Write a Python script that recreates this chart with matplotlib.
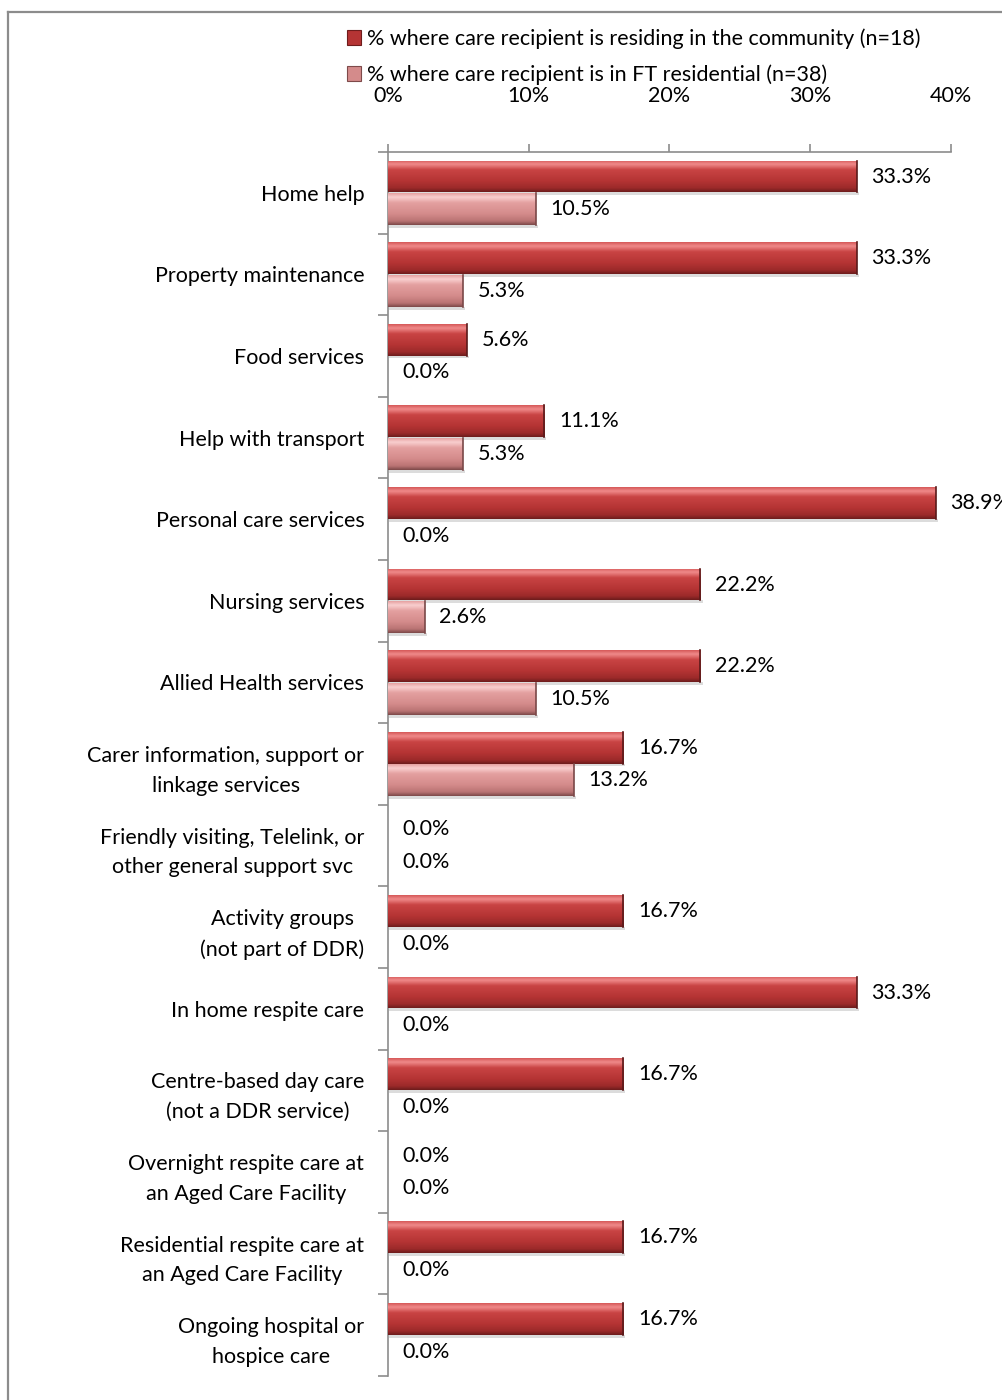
import numpy as np
import matplotlib.pyplot as plt
from matplotlib.colors import LinearSegmentedColormap
from matplotlib.lines import Line2D
from matplotlib.patches import Patch

plt.rcParams['font.family'] = ['Lato', 'DejaVu Sans']

categories = [
    'Home help',
    'Property maintenance',
    'Food services',
    'Help with transport',
    'Personal care services',
    'Nursing services',
    'Allied Health services',
    'Carer information, support or\nlinkage services',
    'Friendly visiting, Telelink, or\nother general support svc',
    'Activity groups\n(not part of DDR)',
    'In home respite care',
    'Centre-based day care\n(not a DDR service)',
    'Overnight respite care at\nan Aged Care Facility',
    'Residential respite care at\nan Aged Care Facility',
    'Ongoing hospital or\nhospice care',
]
community = [33.3, 33.3, 5.6, 11.1, 38.9, 22.2, 22.2, 16.7, 0.0, 16.7, 33.3, 16.7, 0.0, 16.7, 16.7]
residential = [10.5, 5.3, 0.0, 5.3, 0.0, 2.6, 10.5, 13.2, 0.0, 0.0, 0.0, 0.0, 0.0, 0.0, 0.0]
series_names = ['% where care recipient is residing in the community (n=18)',
                '% where care recipient is in FT residential (n=38)']
xticks = [0, 10, 20, 30, 40]

FS = 15.5

red_cmap = LinearSegmentedColormap.from_list(
    'red_bevel', [(0.0, '#d65a5a'), (0.12, '#f08a8a'), (0.3, '#c94444'),
                  (0.65, '#b53434'), (0.88, '#9c2a2a'), (1.0, '#6e1c1c')])
pink_cmap = LinearSegmentedColormap.from_list(
    'pink_bevel', [(0.0, '#e6a2a2'), (0.12, '#f9cfcf'), (0.3, '#e4a0a0'),
                   (0.65, '#d48b8b'), (0.88, '#ba7474'), (1.0, '#7e4a4a')])

fig = plt.figure(figsize=(10.02, 14.0), dpi=100)
ax = fig.add_axes([0.3872, 0.0171, 0.5619, 0.8743])

y = np.arange(len(categories))
h = 0.39
bars_c = ax.barh(y - 0.2, community, height=h, color='#b53434', edgecolor='none', zorder=2)
bars_r = ax.barh(y + 0.2, residential, height=h, color='#d48b8b', edgecolor='none', zorder=2)

ax.set_xlim(0, 40)
ax.set_ylim(len(categories) - 0.5, -0.5)

# vertical bevel gradient on each bar (light edge on top, dark underside)
grad = np.linspace(0, 1, 64).reshape(-1, 1)
for bars, cmap, end_col in ((bars_c, red_cmap, '#5a1a1a'), (bars_r, pink_cmap, '#7a4848')):
    for b in bars:
        if b.get_width() <= 0:
            continue
        x0, y0, w, hh = b.get_x(), b.get_y(), b.get_width(), b.get_height()
        # soft shadow under the bar
        ax.fill_between([x0 + 0.1, x0 + w + 0.15], y0 + hh, y0 + hh + 0.035,
                        color='#bbbbbb', alpha=0.5, lw=0, zorder=1)
        im = ax.imshow(grad, cmap=cmap, aspect='auto', interpolation='bilinear',
                       extent=(x0, x0 + w, y0 + hh, y0), zorder=3)
        im.set_clip_path(b)
        ax.plot([x0 + w, x0 + w], [y0, y0 + hh], color=end_col, lw=1.2, zorder=4)

ax.set_xlim(0, 40)
ax.set_ylim(len(categories) - 0.5, -0.5)

for bars, vals in ((bars_c, community), (bars_r, residential)):
    for b, v in zip(bars, vals):
        ax.text(v + 1.05, b.get_y() + b.get_height() / 2, f'{v:.1f}%',
                va='center', ha='left', fontsize=FS, color='black', zorder=5, clip_on=False)

ax.xaxis.tick_top()
ax.set_xticks(xticks)
ax.set_xticklabels([f'{t}%' for t in xticks])
ax.tick_params(axis='x', which='major', direction='out', length=6, width=1.2,
               color='#8c8c8c', labelsize=FS, pad=27)

ax.set_yticks(y)
ax.set_yticklabels(categories, fontsize=FS)
for lbl in ax.get_yticklabels():
    lbl.set_multialignment('center')
    lbl.set_linespacing(1.6)
ax.set_yticks(np.arange(-0.5, len(categories)), minor=True)
ax.tick_params(axis='y', which='major', length=0, pad=17)
ax.tick_params(axis='y', which='minor', direction='out', length=7, width=1.2, color='#8c8c8c')

for side in ('right', 'bottom'):
    ax.spines[side].set_visible(False)
for side in ('top', 'left'):
    ax.spines[side].set_color('#8c8c8c')
    ax.spines[side].set_linewidth(1.2)

handles = [Patch(facecolor='#b53434', edgecolor='#6e1c1c', lw=0.8),
           Patch(facecolor='#d48b8b', edgecolor='#7e4a4a', lw=0.8)]
fig.legend(handles, series_names, loc='upper left', bbox_to_anchor=(0.327, 0.9935),
           frameon=False, fontsize=FS, handlelength=0.65, handleheight=0.65,
           handletextpad=0.3, labelspacing=0.72)

# chart frame
fig.add_artist(Line2D([0.008, 0.008], [0.0, 0.9914], color='#8c8c8c', lw=1.6,
                      transform=fig.transFigure))
fig.add_artist(Line2D([0.008, 1.0], [0.9914, 0.9914], color='#8c8c8c', lw=1.6,
                      transform=fig.transFigure))

fig.savefig('out.png', dpi=100)
